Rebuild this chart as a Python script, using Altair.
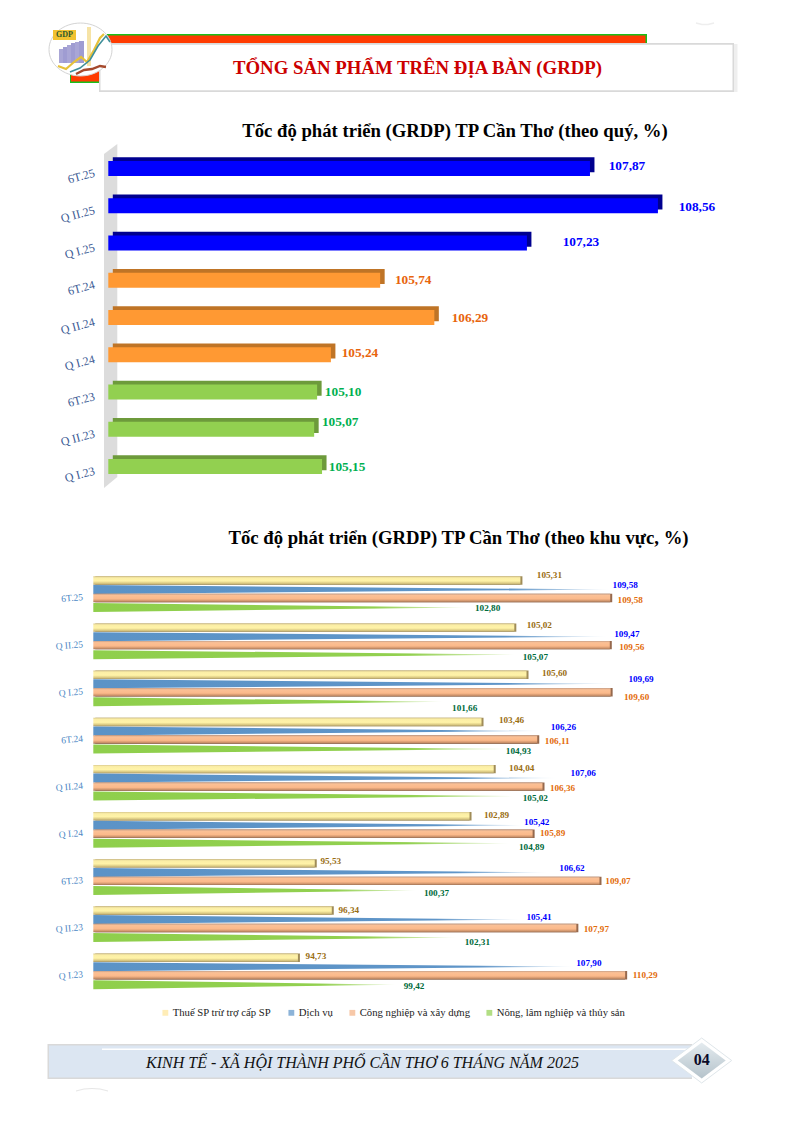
import json
import altair as alt
import pandas as pd

# ---------- chart values ----------
CATS = ["6T.25", "Q II.25", "Q I.25", "6T.24", "Q II.24", "Q I.24", "6T.23", "Q II.23", "Q I.23"]
QUARTER_RATE = [107.87, 108.56, 107.23, 105.74, 106.29, 105.24, 105.10, 105.07, 105.15]
THUE = [105.31, 105.02, 105.60, 103.46, 104.04, 102.89, 95.53, 96.34, 94.73]
DICH_VU = [109.58, 109.47, 109.69, 106.26, 107.06, 105.42, 106.62, 105.41, 107.90]
CONG_NGHIEP = [109.58, 109.56, 109.60, 106.11, 106.36, 105.89, 109.07, 107.97, 110.29]
NONG_NGHIEP = [102.80, 105.07, 101.66, 104.93, 105.02, 104.89, 100.37, 102.31, 99.42]
SERIES_NAMES = ["Thuế SP trừ trợ cấp SP", "Dịch vụ", "Công nghiệp và xây dựng", "Nông, lâm nghiệp và thủy sản"]

TITLE_HEAD = "TỔNG SẢN PHẨM TRÊN ĐỊA BÀN (GRDP)"
TITLE_1 = "Tốc độ phát triển (GRDP) TP Cần Thơ (theo quý, %)"
TITLE_2 = "Tốc độ phát triển (GRDP) TP Cần Thơ (theo khu vực, %)"
TITLE_FOOT = "KINH TẾ - XÃ HỘI THÀNH PHỐ CẦN THƠ 6 THÁNG NĂM 2025"

# ---------- layout (pixel offsets of labels, page geometry) ----------
SERIF = "Liberation Serif"
M = 8  # page margin
def px(v):
    return v - M

Q_DX = [37, 39, 54, 33, 35.6, 29, 26, 26, 25]
Q_DY = [-2.5, 1, -1.3, -0.75, 0.5, -1.75, 0, -7.5, 0]
Y_DX = [29, 25, 28, 30, 28, 27, 16, 17, 18]
Y_DY = [-5.5, -2.5, -2, -2, -1, -1, -2.5, -0.5, -1.5]
B_DX = [15, 19, 28.5, 23, 26, 14, 24, 16.5, 14]
B_DY = [-4.5, -2.5, -5, -4, -5, -3, -4.5, -2.5, -3.5]
O_DX = [20, 22, 26, 20, 20, 20, 18.5, 20, 20]
O_DY = [2, 2, 4.5, 1.5, 1.5, -0.5, 0, 1, 0]
G_DX = [20, 20, 21, 6, 21, 20, 20, 20, 17.5]
G_DY = [0.5, 2.5, 6, 2, 2, 4, 2.5, 4.5, 1.5]

# chart 1 scales
Q_DOM = [102.98, 108.98]
Q_PXU = 98.5
Q_RANGE = [px(108.3), px(108.3) + 6 * Q_PXU]
Q_STEP = 37.25
Q_Y0 = 168.5 - Q_STEP / 2
Q_YRANGE = [px(Q_Y0), px(Q_Y0) + 9 * Q_STEP]
qx = alt.Scale(domain=Q_DOM, range=Q_RANGE, nice=False, zero=False)
qy_band = alt.Scale(domain=CATS, range=Q_YRANGE, paddingInner=0, paddingOuter=0)
qy_num = alt.Scale(domain=[0, 9], range=Q_YRANGE, nice=False, zero=False)

# chart 2 scales
K_DOM = [85, 115]
K_PXU = 21.03
K_RANGE = [px(93.3), px(93.3) + 30 * K_PXU]
K_STEP = 47.15
K_Y0 = 573.0
K_YRANGE = [px(K_Y0), px(K_Y0) + 9 * K_STEP]
kx = alt.Scale(domain=K_DOM, range=K_RANGE, nice=False, zero=False)
ky = alt.Scale(domain=[0, 9], range=K_YRANGE, nice=False, zero=False, padding=0)
ROW_MID = K_Y0 + K_STEP / 2
OFF = {"y": 580.5 - ROW_MID, "b": 589.5 - ROW_MID, "o": 598.0 - ROW_MID, "g": 607.5 - ROW_MID}
WEDGE_H = 9.0
BAR_H = 8.4


def vgrad(*stops):
    return alt.LinearGradient(gradient="linear", x1=0, y1=0, x2=0, y2=1,
                              stops=[alt.GradientStop(offset=o, color=c) for o, c in stops])


def hgrad(*stops):
    return alt.LinearGradient(gradient="linear", x1=0, y1=0, x2=1, y2=0,
                              stops=[alt.GradientStop(offset=o, color=c) for o, c in stops])


def rects(rows):
    df = pd.DataFrame(rows, columns=["x", "x2", "y", "y2", "fill"])
    df[["x", "x2"]] -= M
    df[["y", "y2"]] -= M
    return alt.Chart(df).mark_rect().encode(
        x=alt.X("x:Q", scale=None, axis=None), x2="x2:Q",
        y=alt.Y("y:Q", scale=None, axis=None), y2="y2:Q",
        fill=alt.Fill("fill:N", scale=None),
    )


def poly(points, color, width=2.0):
    df = pd.DataFrame(points, columns=["x", "y"])
    df["i"] = range(len(df))
    df[["x", "y"]] -= M
    return alt.Chart(df).mark_line(color=color, strokeWidth=width).encode(
        x=alt.X("x:Q", scale=None, axis=None),
        y=alt.Y("y:Q", scale=None, axis=None),
        order="i:Q",
    )


def label(text, x, y, size, color="#000000", weight="normal", style="normal", angle=0):
    return alt.Chart(pd.DataFrame({"t": [text]})).mark_text(
        font=SERIF, fontSize=size, color=color, fontWeight=weight, fontStyle=style,
        align="center", baseline="middle", angle=angle,
    ).encode(text="t:N", x=alt.value(px(x)), y=alt.value(px(y)))


def sym(path, x, y, w, fill, stroke=None, sw=0):
    kw = dict(shape=path, filled=True, fill=fill, opacity=1, size=w * w)
    if stroke:
        kw.update(stroke=stroke, strokeWidth=sw)
    return alt.Chart(pd.DataFrame({"a": [0]})).mark_point(**kw).encode(
        x=alt.value(px(x)), y=alt.value(px(y)))


layers = []

# ---------- header ----------
layers.append(rects([
    [70, 99.5, 71, 83, "#19c019"],
    [71, 99.5, 71, 81.5, "#ff3b00"],
    [107, 647, 34, 44, "#19c019"],
    [107, 645.5, 35.5, 44, "#ff3b00"],
    [733, 737.5, 44, 92, "#efefef"],
    [99, 734, 43, 92, "#d9d9d9"],
    [100.5, 732.5, 44.8, 90.3, "#ffffff"],
]))
layers.append(label(TITLE_HEAD, 417.5, 68, 18.8, color="#cc0000", weight="bold"))
# logo
ELLIPSE = "M -1 0 A 1 0.84 0 1 0 1 0 A 1 0.84 0 1 0 -1 0 Z"
layers.append(sym(ELLIPSE, 80.5, 49.5, 63, "#ffffff", "#d4d4d4", 1))
layers.append(rects([
    [53, 76, 30, 40, "#f2c230"],
    [87, 91, 27, 66, "#f6e3a6"],
    [59, 63, 49, 63, "#a9a6d6"],
    [63, 67, 47, 63, "#9f9cd2"],
    [67, 71, 45, 63, "#a9a6d6"],
    [71, 75, 43, 63, "#9f9cd2"],
    [75, 79, 42, 63, "#a9a6d6"],
    [79, 84, 41, 63, "#9f9cd2"],
]))
layers.append(label("GDP", 64.5, 35, 8, color="#2d5a2d", weight="bold"))
layers.append(poly([[58, 66], [66, 69], [74, 62], [81, 57], [87, 62], [94, 50], [100, 38], [104, 34]], "#e6c13a", 2.2))
layers.append(poly([[70, 72], [80, 68], [90, 60], [98, 46], [106, 36], [110, 42]], "#3f8f9a", 1.6))
layers.append(poly([[76, 74], [84, 70], [92, 69], [100, 66], [106, 67]], "#a5492c", 2.4))

# ---------- chart 1 ----------
layers.append(label(TITLE_1, 455, 130.5, 18.7, weight="bold"))
wall = pd.DataFrame({"x": [px(104), px(117.3)], "y": [px(154), px(144)], "y2": [px(488), px(477)]})
layers.append(alt.Chart(wall).mark_area(color="#dcdcdc", orient="vertical").encode(
    x=alt.X("x:Q", scale=None, axis=None),
    y=alt.Y("y:Q", scale=None, axis=None),
    y2="y2:Q",
))

q_df = pd.DataFrame({"cat": CATS, "value": QUARTER_RATE, "start": [Q_DOM[0]] * 9})
q_styles = [
    (q_df.iloc[:3], "#0000ff", "#00008f", "#0000ff"),
    (q_df.iloc[3:6], "#ff9933", "#bf7426", "#e8640c"),
    (q_df.iloc[6:9], "#92d050", "#6d9a3b", "#00b050"),
]
first = True
for part, face, dark, _ in q_styles:
    enc_x = alt.X("start:Q", scale=qx, axis=None)
    back = alt.Chart(part).mark_bar(color=dark, height=15, orient="horizontal", xOffset=4.5, x2Offset=4.5, yOffset=-3.7).encode(
        x=enc_x, x2="value:Q", y=alt.Y("cat:N", scale=qy_band, axis=None))
    y_axis = None
    if first:
        y_axis = alt.Axis(title=None, domain=False, ticks=False, grid=False, labelAngle=345, orient="left",
                          labelAlign="right", labelBaseline="middle", labelPadding=0,
                          offset=-px(94), labelOffset=4, labelFont=SERIF, labelFontSize=12,
                          labelColor="#3b5a94", labelOverlap=False)
        first = False
    front = alt.Chart(part).mark_bar(color=face, height=15, orient="horizontal").encode(
        x=enc_x, x2="value:Q", y=alt.Y("cat:N", scale=qy_band, axis=y_axis))
    layers += [back, front]

q_lab = pd.DataFrame({
    "value": QUARTER_RATE,
    "lab": [f"{v:.2f}".replace(".", ",") for v in QUARTER_RATE],
    "lx": [v + d / Q_PXU for v, d in zip(QUARTER_RATE, Q_DX)],
    "ly": [i + 0.5 + d / Q_STEP for i, d in enumerate(Q_DY)],
})
for rng, (_, _, _, col) in zip([(0, 3), (3, 6), (6, 9)], q_styles):
    layers.append(alt.Chart(q_lab.iloc[rng[0]:rng[1]]).mark_text(
        font=SERIF, fontSize=13.3, fontWeight="bold", color=col, align="center", baseline="middle"
    ).encode(
        x=alt.X("lx:Q", scale=qx, axis=None),
        y=alt.Y("ly:Q", scale=qy_num, axis=None),
        text="lab:N",
    ))

# ---------- chart 2 ----------
layers.append(label(TITLE_2, 458.5, 538, 18.7, weight="bold"))


def slot_frame(values, key):
    return pd.DataFrame({
        "cat": CATS, "value": values, "start": [K_DOM[0]] * 9,
        "slot": [i + 0.5 + OFF[key] / K_STEP for i in range(9)],
    })


def solid_bars(values, key, cap, grad, axis=None):
    d = slot_frame(values, key)
    bx = alt.X("start:Q", scale=kx, axis=None)
    back = alt.Chart(d).mark_bar(color=cap, height=BAR_H, orient="horizontal", xOffset=2, x2Offset=2).encode(
        x=bx, x2="value:Q", y=alt.Y("slot:Q", scale=ky, axis=None))
    front = alt.Chart(d).mark_bar(color=grad, height=BAR_H, orient="horizontal").encode(
        x=bx, x2="value:Q", y=alt.Y("slot:Q", scale=ky, axis=axis))
    return [back, front]


def wedges(values, key, grad):
    rows = []
    h = (WEDGE_H / 2) / K_STEP
    for i, v in enumerate(values):
        c = i + 0.5 + OFF[key] / K_STEP
        rows.append({"row": i, "x": K_DOM[0], "top": c - h, "bot": c + h})
        rows.append({"row": i, "x": v, "top": c, "bot": c})
    d = pd.DataFrame(rows)
    out = []
    for i in range(9):
        out.append(alt.Chart(d[d.row == i]).mark_area(color=grad, orient="vertical").encode(
            x=alt.X("x:Q", scale=kx, axis=None),
            y=alt.Y("top:Q", scale=ky, axis=None),
            y2="bot:Q",
        ))
    return out


k_axis = alt.Axis(title=None, domain=False, ticks=False, grid=False, orient="left",
                  values=[i + 0.5 for i in range(9)],
                  labelExpr=json.dumps(CATS) + "[floor(datum.value)]",
                  labelAngle=355, labelAlign="right", labelBaseline="middle", labelPadding=0,
                  offset=-px(82.5), labelOffset=0, labelFont=SERIF, labelFontSize=9.5,
                  labelColor="#4a86c4", labelOverlap=False)

YEL = vgrad((0, "#d8c88e"), (0.2, "#fbeea6"), (0.55, "#fff3a8"), (0.85, "#d6c47e"), (1, "#a8986a"))
ORG = vgrad((0, "#c8a088"), (0.2, "#fbc095"), (0.6, "#fbb98a"), (0.88, "#c98f68"), (1, "#8f6a52"))
BLU = hgrad((0, "#5b93c7"), (0.8, "#5f95c8"), (0.96, "#cfe0f0"), (1, "#f4f8fb"))
GRN = hgrad((0, "#8fcf4c"), (0.75, "#92d050"), (0.95, "#d7edbb"), (1, "#f6fbef"))

layers += solid_bars(THUE, "y", "#a08c58", YEL, axis=k_axis)
layers += wedges(DICH_VU, "b", BLU)
layers += solid_bars(CONG_NGHIEP, "o", "#96694d", ORG)
layers += wedges(NONG_NGHIEP, "g", GRN)

for vals, key, dxs, dys, col in [
    (THUE, "y", Y_DX, Y_DY, "#9a6e12"),
    (DICH_VU, "b", B_DX, B_DY, "#0000ff"),
    (CONG_NGHIEP, "o", O_DX, O_DY, "#e36c0a"),
    (NONG_NGHIEP, "g", G_DX, G_DY, "#006b3c"),
]:
    d = pd.DataFrame({
        "lab": [f"{v:.2f}".replace(".", ",") for v in vals],
        "lx": [v + dx / K_PXU for v, dx in zip(vals, dxs)],
        "ly": [i + 0.5 + (OFF[key] + dy) / K_STEP for i, dy in enumerate(dys)],
    })
    layers.append(alt.Chart(d).mark_text(
        font=SERIF, fontSize=9.2, fontWeight="bold", color=col, align="center", baseline="middle"
    ).encode(
        x=alt.X("lx:Q", scale=kx, axis=None),
        y=alt.Y("ly:Q", scale=ky, axis=None),
        text="lab:N",
    ))

# legend
legend_df = pd.DataFrame({"series": SERIES_NAMES})
layers.append(alt.Chart(legend_df).transform_filter("false").mark_square().encode(
    color=alt.Color("series:N",
                    scale=alt.Scale(domain=SERIES_NAMES,
                                    range=["#ffe699", "#5b93c7", "#f4b183", "#92d050"]),
                    legend=alt.Legend(orient="none", legendX=px(160), legendY=px(1007),
                                      direction="horizontal", columns=4, title=None,
                                      labelFont=SERIF, labelFontSize=10.7, labelColor="#222222",
                                      symbolType="square", symbolSize=34, symbolStrokeWidth=0,
                                      labelOffset=2, columnPadding=14, padding=0)),
))

# ---------- footer ----------
layers.append(rects([
    [47.5, 692, 1044, 1079, "#d9d9d9"],
    [49, 692, 1045.5, 1077.5, "#dce6f2"],
    [102, 692, 1048.5, 1050, "#ffffff"],
]))
layers.append(label(TITLE_FOOT, 362.5, 1063, 16, color="#111111", style="italic"))
DIAMOND = "M -1 0 L 0 -0.75 L 1 0 L 0 0.75 Z"
layers.append(sym(DIAMOND, 701.7, 1060.5, 60, "#ffffff", "#dfe6ea", 1))
layers.append(sym(DIAMOND, 701.7, 1060.5, 48,
                  alt.LinearGradient(gradient="linear", x1=0, y1=0, x2=0, y2=1,
                                     stops=[alt.GradientStop(offset=0, color="#e4ebef"),
                                            alt.GradientStop(offset=1, color="#b5c3cb")])))
layers.append(label("04", 701.7, 1060, 16, weight="bold", color="#0a0a28"))

# faint page-corner arcs
layers.append(poly([[696, 23], [702, 24.5], [708, 24.5], [714, 23]], "#eeeeee", 1.5))
layers.append(poly([[76, 1091], [84, 1089], [92, 1088.5], [100, 1089], [108, 1091]], "#e6e6e6", 1))

chart = alt.layer(*layers).resolve_scale(x="independent", y="independent", color="independent").properties(
    width=778, height=1106, padding=0,
    autosize=alt.AutoSizeParams(type="none"),
    background="#ffffff",
).configure_view(stroke=None)

chart.save("out.html", embed_options={"renderer": "svg", "actions": False})
